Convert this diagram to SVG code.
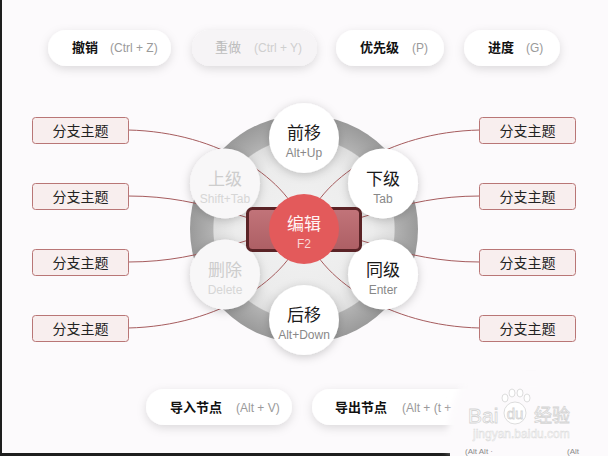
<svg xmlns="http://www.w3.org/2000/svg" width="608" height="456" viewBox="0 0 608 456">
<defs>
<style>
.pill{fill:#fff;filter:url(#sh)}
.pk{font-family:"Noto Sans CJK SC","Liberation Sans",sans-serif;font-size:13px;font-weight:bold;fill:#111}
.ps{font-family:"Liberation Sans",Arial,sans-serif;font-size:12px;fill:#9a9a9a}
.dim .pill{fill:#f6f4f6}
.dim .pk{fill:#bdbdbd;font-weight:normal}
.dim .ps{fill:#cfcfcf}
.box{fill:#f8eeee;stroke:#b97676;stroke-width:1}
.bt{font-family:"Noto Sans CJK SC",sans-serif;font-size:14px;fill:#222;text-anchor:middle}
.con{fill:none;stroke:#a65c5e;stroke-width:1}
.sat{fill:#fff;filter:url(#sh2)}
.sk{font-family:"Noto Sans CJK SC",sans-serif;font-size:17px;fill:#1a1a1a;text-anchor:middle}
.sl{font-family:"Liberation Sans",Arial,sans-serif;font-size:12px;fill:#888;text-anchor:middle}
.fade .sat{fill:#f8f7f8}
.fade .sk{fill:#cdcdcd}
.fade .sl{fill:#d6d6d6}
.wm{fill:#fff;stroke:#d4d4d4;stroke-width:0.8}
.cut{font-family:"Liberation Sans",sans-serif;font-size:8px;fill:#8a8a8a}
</style>
<filter id="sh" x="-30%" y="-50%" width="160%" height="220%">
<feDropShadow dx="0" dy="3" stdDeviation="5" flood-color="#000" flood-opacity="0.13"/>
</filter>
<filter id="sh2" x="-50%" y="-50%" width="200%" height="200%">
<feDropShadow dx="0" dy="2" stdDeviation="5" flood-color="#000" flood-opacity="0.2"/>
</filter>
<filter id="blur" x="-20%" y="-20%" width="140%" height="140%">
<feGaussianBlur stdDeviation="3"/>
</filter>
<radialGradient id="ring" gradientUnits="userSpaceOnUse" cx="304" cy="229" r="114">
<stop offset="0" stop-color="#f2f2f2"/>
<stop offset="0.6" stop-color="#ececec"/>
<stop offset="0.79" stop-color="#dedede"/>
<stop offset="0.8" stop-color="#b2b2b2"/>
<stop offset="1" stop-color="#9a9a9a"/>
</radialGradient>
<linearGradient id="rect" x1="0" y1="0" x2="0" y2="1">
<stop offset="0" stop-color="#c2747a"/>
<stop offset="1" stop-color="#ad5f64"/>
</linearGradient>
</defs>

<rect width="608" height="456" fill="#fcfafc"/>

<g id="undo"><rect class="pill" x="48" y="30" width="123" height="36" rx="18"/><text class="pk" x="72" y="52">撤销</text><text class="ps" x="110" y="51.5">(Ctrl + Z)</text></g>
<g id="redo" class="dim"><rect class="pill" x="192" y="30" width="125" height="36" rx="18"/><text class="pk" x="215" y="52">重做</text><text class="ps" x="254" y="51.5">(Ctrl + Y)</text></g>
<g id="priority"><rect class="pill" x="336" y="30" width="108" height="36" rx="18"/><text class="pk" x="360" y="52">优先级</text><text class="ps" x="412" y="51.5">(P)</text></g>
<g id="progress"><rect class="pill" x="464" y="30" width="96" height="36" rx="18"/><text class="pk" x="488" y="52">进度</text><text class="ps" x="526" y="51.5">(G)</text></g>

<g id="ring-bg"><circle cx="304" cy="229" r="114" fill="url(#ring)"/></g>

<g id="connectors">
<path class="con" d="M304,229 C290,180 220,132 128,130"/>
<path class="con" d="M304,229 C250,226 210,196 128,196"/>
<path class="con" d="M304,229 C250,232 210,262 128,262"/>
<path class="con" d="M304,229 C290,278 220,326 128,328"/>
<path class="con" d="M304,229 C318,180 388,132 480,130"/>
<path class="con" d="M304,229 C358,226 398,196 480,196"/>
<path class="con" d="M304,229 C358,232 398,262 480,262"/>
<path class="con" d="M304,229 C318,278 388,326 480,328"/>
</g>

<g id="branch-l1"><rect class="box" x="32.5" y="117.5" width="96" height="26" rx="3"/><text class="bt" x="80.5" y="135.5">分支主题</text></g>
<g id="branch-l2"><rect class="box" x="32.5" y="183.5" width="96" height="26" rx="3"/><text class="bt" x="80.5" y="201.5">分支主题</text></g>
<g id="branch-l3"><rect class="box" x="32.5" y="249.5" width="96" height="26" rx="3"/><text class="bt" x="80.5" y="267.5">分支主题</text></g>
<g id="branch-l4"><rect class="box" x="32.5" y="315.5" width="96" height="26" rx="3"/><text class="bt" x="80.5" y="333.5">分支主题</text></g>
<g id="branch-r1"><rect class="box" x="479.5" y="117.5" width="96" height="26" rx="3"/><text class="bt" x="527.5" y="135.5">分支主题</text></g>
<g id="branch-r2"><rect class="box" x="479.5" y="183.5" width="96" height="26" rx="3"/><text class="bt" x="527.5" y="201.5">分支主题</text></g>
<g id="branch-r3"><rect class="box" x="479.5" y="249.5" width="96" height="26" rx="3"/><text class="bt" x="527.5" y="267.5">分支主题</text></g>
<g id="branch-r4"><rect class="box" x="479.5" y="315.5" width="96" height="26" rx="3"/><text class="bt" x="527.5" y="333.5">分支主题</text></g>

<g id="move-up"><circle class="sat" cx="304" cy="138" r="35"/><text class="sk" x="304" y="139">前移</text><text class="sl" x="304" y="157">Alt+Up</text></g>
<g id="child"><circle class="sat" cx="383" cy="183.5" r="35"/><text class="sk" x="383" y="184.5">下级</text><text class="sl" x="383" y="202.5">Tab</text></g>
<g id="sibling"><circle class="sat" cx="383" cy="274.5" r="35"/><text class="sk" x="383" y="275.5">同级</text><text class="sl" x="383" y="293.5">Enter</text></g>
<g id="move-down"><circle class="sat" cx="304" cy="320" r="35"/><text class="sk" x="304" y="321">后移</text><text class="sl" x="304" y="339">Alt+Down</text></g>
<g id="delete" class="fade"><circle class="sat" cx="225" cy="274.5" r="35"/><text class="sk" x="225" y="275.5">删除</text><text class="sl" x="225" y="293.5">Delete</text></g>
<g id="parent" class="fade"><circle class="sat" cx="225" cy="183.5" r="35"/><text class="sk" x="225" y="184.5">上级</text><text class="sl" x="225" y="202.5">Shift+Tab</text></g>

<g id="edit">
<rect x="247.5" y="208.5" width="113" height="42" rx="5" fill="url(#rect)" stroke="#5a2326" stroke-width="3"/>
<circle cx="304" cy="229" r="35" fill="#e35a5b"/>
<text class="sk" x="304" y="230" style="fill:#fff3f3">编辑</text>
<text class="sl" x="304" y="248" style="fill:#f9d6d6">F2</text>
</g>

<g id="import"><rect class="pill" x="146" y="389" width="146" height="36" rx="18"/><text class="pk" x="170" y="412">导入节点</text><text class="ps" x="236" y="411.5">(Alt + V)</text></g>
<g id="export"><rect class="pill" x="312" y="389" width="170" height="36" rx="18"/><text class="pk" x="335" y="412">导出节点</text><text class="ps" x="402" y="411.5">(Alt + (t +</text></g>

<rect x="0" y="0" width="2" height="456" fill="#1e1e1e"/>
<rect x="0" y="453" width="450" height="3" fill="#1e1e1e"/>

<g id="watermark">
<path d="M462,384 C500,376 560,378 600,382 L604,452 L448,452 C444,430 452,400 462,384 Z" fill="#fcfafc" filter="url(#blur)"/>
<text class="cut" x="465" y="454">(Alt Alt ·</text>
<text class="cut" x="567" y="454">(Alt</text>
<text class="wm" x="468" y="423" style="font-family:'Liberation Sans',sans-serif;font-size:21px">Bai</text>
<circle class="wm" cx="515" cy="413" r="11"/>
<ellipse class="wm" cx="505" cy="398" rx="3" ry="4"/>
<ellipse class="wm" cx="512" cy="393" rx="3" ry="4"/>
<ellipse class="wm" cx="520" cy="393" rx="3" ry="4"/>
<ellipse class="wm" cx="527" cy="398" rx="3" ry="4"/>
<text class="wm" x="515" y="419" text-anchor="middle" style="font-family:'Liberation Sans',sans-serif;font-size:15px">du</text>
<text class="wm" x="534" y="422" style="font-family:'Noto Sans CJK SC',sans-serif;font-size:18px">经验</text>
<text x="473" y="438" style="font-family:'Liberation Sans',sans-serif;font-size:12px;fill:#fff;stroke:#dadada;stroke-width:0.5">jingyan.baidu.com</text>
</g>
</svg>
